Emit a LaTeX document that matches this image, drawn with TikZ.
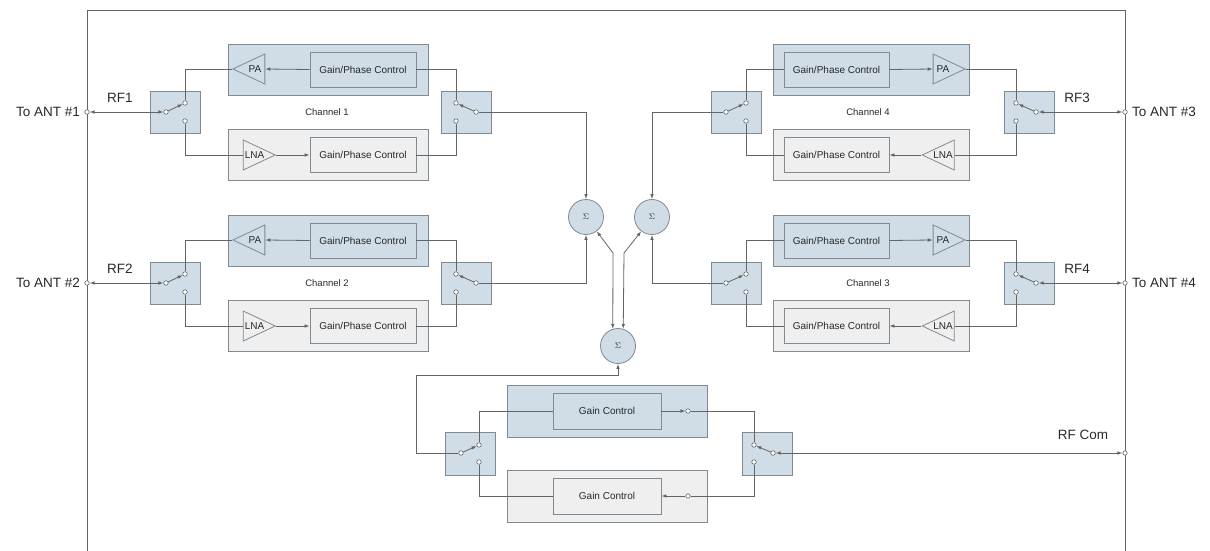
\documentclass[tikz,border=0pt]{standalone}
\usepackage{fontspec}
\setmainfont{Liberation Sans}
\usetikzlibrary{arrows.meta,shapes.geometric}
\definecolor{boxblue}{RGB}{208,221,230}
\definecolor{boxgray}{RGB}{239,239,239}
\definecolor{edgegray}{RGB}{128,138,146}
\definecolor{wiregray}{RGB}{100,100,100}
\definecolor{txtgray}{RGB}{40,40,40}

\begin{document}
\begin{tikzpicture}
        [x=1pt,y=-1pt,>={Latex[length=5pt,width=3.6pt]}]
        \tikzstyle{every node}=[text=txtgray]
        \tikzstyle{wire}=[draw=wiregray, line width=0.8pt]
        \tikzstyle{panel}=[draw=edgegray, line width=0.8pt, inner sep=0pt,
        minimum width=200pt, minimum height=51pt]
        \tikzstyle{gpc}=[draw=edgegray, line width=0.8pt, inner sep=0pt,
        minimum width=106pt, minimum height=35pt, font=\fontsize{10}{12}\selectfont]
        \tikzstyle{amp}=[isosceles triangle, isosceles triangle stretches,
        draw=edgegray, line width=0.8pt, inner sep=0pt, minimum width=30pt,
        minimum height=32pt, font=\fontsize{10}{12}\selectfont]
        \tikzstyle{swbox}=[draw=edgegray, fill=boxblue, line width=0.8pt,
        inner sep=0pt, minimum width=50pt, minimum height=42pt]
        \tikzstyle{term}=[circle, draw=wiregray, fill=white, line width=0.6pt,
        inner sep=0pt, minimum size=4.5pt]
        \tikzstyle{sum}=[circle, draw=edgegray, fill=boxblue, line width=0.8pt,
        inner sep=0pt, minimum size=35pt, font=\fontsize{8}{9}\selectfont]
        \tikzstyle{big}=[font=\fontsize{13.5}{16}\selectfont, inner sep=1pt]
        \tikzstyle{chan}=[font=\fontsize{9.5}{11}\selectfont]

        \useasboundingbox (0,0) rectangle (1210,551);
        %-----frame
        \draw[wiregray, line width=0.8pt] (87,551) -- (87,10) -- (1125,10) -- (1125,551);

        %-----sums
        \node[sum] (sum1) at (586,217) {$\Sigma$};
        \node[sum] (sum2) at (652,217) {$\Sigma$};
        \node[sum] (sum3) at (618,346) {$\Sigma$};

        %-----channels 1 and 2
        \foreach \c/\dy/\sa in {1/0/north, 2/171/south}{
         \node[panel, fill=boxblue] (tx\c) at (328,{69.5+\dy}) {};
         \node[panel, fill=boxgray] (rx\c) at (328,{155+\dy}) {};
         \node[gpc, fill=boxblue] (gtx\c) at (363,{69.5+\dy}) {Gain/Phase Control};
         \node[gpc, fill=boxgray] (grx\c) at (363,{155+\dy}) {Gain/Phase Control};
         \node[amp, fill=boxblue, shape border rotate=180] (pa\c) at (255,{69+\dy}) {PA};
         \node[amp, fill=boxgray] (lna\c) at (254.5,{155+\dy}) {LNA};
         \node[swbox] (swa\c) at (175,{112+\dy}) {};
         \node[swbox] (swb\c) at (466,{112+\dy}) {};
         \node[chan] at (327,{112+\dy}) {Channel \c};
         \node[big] at (120,{98+\dy}) {RF\c};
         \node[big, anchor=east] at (81,{112+\dy}) {To ANT \#\c};
         \node[term] (ant\c) at (87,{112+\dy}) {};
         \node[term] (ca\c) at (166,{112+\dy}) {};
         \node[term] (ua\c) at (185,{103+\dy}) {};
         \node[term] (la\c) at (185,{121+\dy}) {};
         \node[term] (cb\c) at (476,{112+\dy}) {};
         \node[term] (ub\c) at (456,{103+\dy}) {};
         \node[term] (lb\c) at (456,{121+\dy}) {};

         \draw[wire] (pa\c.apex) -| (ua\c);
         \draw[wire,->] (gtx\c.west) -- (pa\c.lower side);
         \draw[wire] (la\c) |- (lna\c.lower side);
         \draw[wire,->] (lna\c.apex) -- (grx\c.west);
         \draw[wire] (gtx\c.east) -| (ub\c);
         \draw[wire] (grx\c.east) -| (lb\c);
         \draw[wire,->] (ca\c) -- (ua\c);
         \draw[wire,->] (cb\c) -- (ub\c);
         \draw[wire,<->] (ant\c) -- (ca\c);
         \draw[wire,->] (cb\c) -| (sum1.\sa);
        }

        %-----channels 4 and 3
        \foreach \c/\r/\dy/\sa in {4/3/0/north, 3/4/171/south}{
         \node[panel, fill=boxblue, minimum width=196pt] (tx\c) at (871,{69.5+\dy}) {};
         \node[panel, fill=boxgray, minimum width=196pt] (rx\c) at (871,{155+\dy}) {};
         \node[gpc, fill=boxblue, minimum width=105pt] (gtx\c) at (836.5,{69.5+\dy}) {Gain/Phase Control};
         \node[gpc, fill=boxgray, minimum width=105pt] (grx\c) at (836.5,{155+\dy}) {Gain/Phase Control};
         \node[amp, fill=boxblue] (pa\c) at (943,{69+\dy}) {PA};
         \node[amp, fill=boxgray, shape border rotate=180] (lna\c) at (943,{155+\dy}) {LNA};
         \node[swbox] (swc\c) at (736.5,{112+\dy}) {};
         \node[swbox] (swd\c) at (1029,{112+\dy}) {};
         \node[chan] at (868,{112+\dy}) {Channel \c};
         \node[big] at (1077,{98+\dy}) {RF\r};
         \node[big, anchor=west] at (1131,{112+\dy}) {To ANT \#\r};
         \node[term] (ant\r) at (1125,{112+\dy}) {};
         \node[term] (cc\c) at (726,{112+\dy}) {};
         \node[term] (uc\c) at (746,{103+\dy}) {};
         \node[term] (lc\c) at (746,{121+\dy}) {};
         \node[term] (cd\c) at (1036,{112+\dy}) {};
         \node[term] (ud\c) at (1016,{103+\dy}) {};
         \node[term] (ld\c) at (1016,{121+\dy}) {};

         \draw[wire] (uc\c) |- (gtx\c.west);
         \draw[wire] (lc\c) |- (grx\c.west);
         \draw[wire,->] (gtx\c.east) -- (pa\c.lower side);
         \draw[wire] (pa\c.apex) -| (ud\c);
         \draw[wire] (ld\c) |- (lna\c.lower side);
         \draw[wire,->] (lna\c.apex) -- (grx\c.east);
         \draw[wire,->] (cc\c) -- (uc\c);
         \draw[wire,->] (cd\c) -- (ud\c);
         \draw[wire,<->] (cd\c) -- (ant\r);
         \draw[wire,->] (cc\c) -| (sum2.\sa);
        }

        %-----common path
        \node[panel, fill=boxblue, minimum height=52pt] (gtop) at (607,411) {};
        \node[panel, fill=boxgray, minimum height=52pt] (gbot) at (607,496) {};
        \node[gpc, fill=boxblue, minimum width=108pt, minimum height=36pt] (gcu) at (607,411) {Gain Control};
        \node[gpc, fill=boxgray, minimum width=108pt, minimum height=36pt] (gcl) at (607,496) {Gain Control};
        \node[swbox, minimum height=43pt] (swe) at (470,453.5) {};
        \node[swbox, minimum height=43pt] (swf) at (767,453.5) {};
        \node[big] at (1083,435) {RF Com};
        \node[term] (com) at (1125,453) {};
        \node[term] (tu) at (688,411) {};
        \node[term] (tl) at (688,496) {};
        \node[term] (ce) at (461,453) {};
        \node[term] (ue) at (479,445) {};
        \node[term] (le) at (479,462) {};
        \node[term] (cf) at (773,453) {};
        \node[term] (uf) at (754,445) {};
        \node[term] (lf) at (754,462) {};

        \coordinate (bendA) at (416,453);
        \coordinate (bendB) at (618,375);
        \draw[wire,->] (ce) -- (bendA) |- (bendB) -- (sum3.south);
        \draw[wire,<->] (sum1.-53) -- (613,253) -- (sum3.107);
        \draw[wire,<->] (sum2.-127) -- (624,253) -- (sum3.73);

         \foreach \from/\to in {ue/gcu.west, le/gcl.west}
         \draw[wire] (\from) |- (\to);
         \foreach \from/\to in {tu/uf, tl/lf}
         \draw[wire] (\from) -| (\to);
         \foreach \from/\to in {gcu.east/tu, tl/gcl.east, ce/ue, cf/uf}
         \draw[wire,->] (\from) -- (\to);
         \draw[wire,<->] (cf) -- (com);

\end{tikzpicture}
\end{document}
